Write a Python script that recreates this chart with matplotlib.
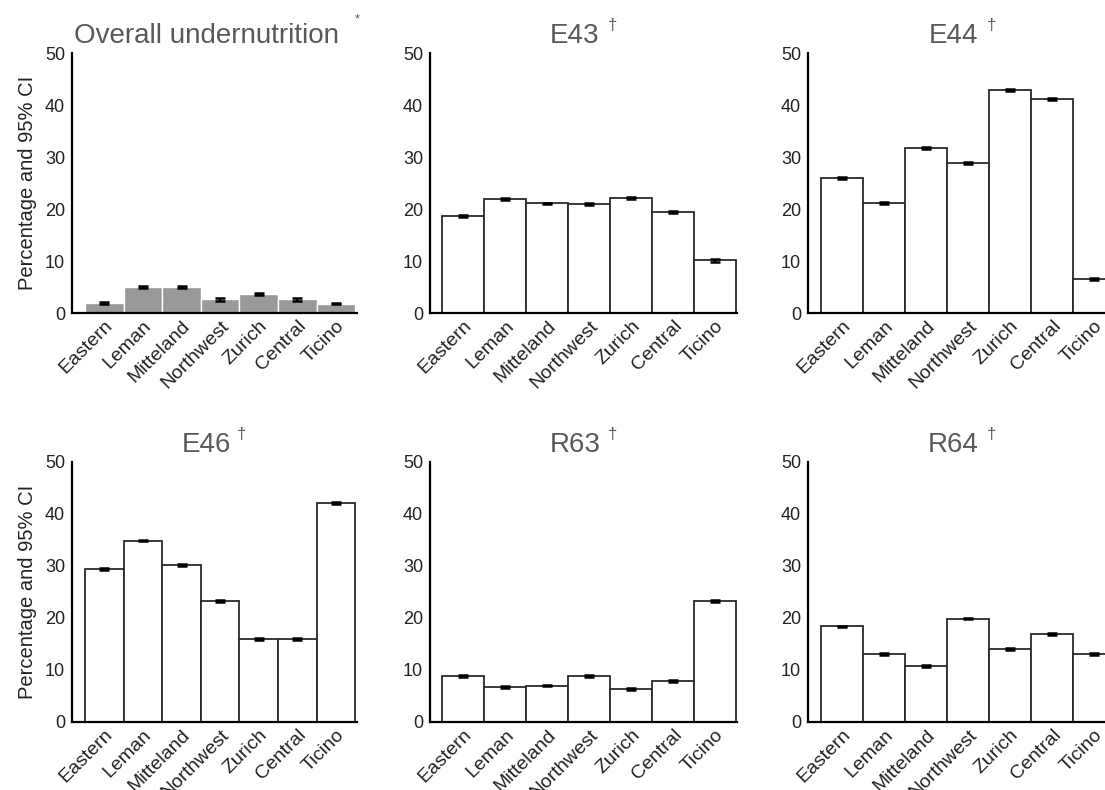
import matplotlib
matplotlib.use("Agg")
import matplotlib.pyplot as plt
import numpy as np

plt.rcParams['font.family'] = ['Liberation Sans', 'DejaVu Sans']

regions = ["Eastern", "Leman", "Mitteland", "Northwest", "Zurich", "Central", "Ticino"]

overall = [1.9, 5.0, 5.0, 2.6, 3.6, 2.6, 1.8]
overall_err = [0.2, 0.2, 0.2, 0.2, 0.2, 0.2, 0.15]

e43 = [18.6, 22.0, 21.1, 21.0, 22.1, 19.4, 10.1]
e43_err = [0.2, 0.2, 0.15, 0.2, 0.15, 0.15, 0.2]

e44 = [26.0, 21.1, 31.7, 28.9, 42.9, 41.1, 6.6]
e44_err = [0.15, 0.2, 0.2, 0.15, 0.15, 0.2, 0.2]

e46 = [29.4, 34.9, 30.2, 23.3, 16.0, 16.0, 42.1]
e46_err = [0.15, 0.15, 0.15, 0.15, 0.15, 0.15, 0.15]

r63 = [8.9, 6.7, 7.0, 8.8, 6.3, 7.9, 23.3]
r63_err = [0.15, 0.15, 0.15, 0.15, 0.15, 0.15, 0.2]

r64 = [18.4, 13.1, 10.8, 19.9, 14.0, 16.9, 13.1]
r64_err = [0.15, 0.15, 0.15, 0.15, 0.15, 0.15, 0.15]

titles = ["Overall undernutrition", "E43", "E44", "E46", "R63", "R64"]
marks = ["*", "\u2020", "\u2020", "\u2020", "\u2020", "\u2020"]
series = [overall, e43, e44, e46, r63, r64]
errors = [overall_err, e43_err, e44_err, e46_err, r63_err, r64_err]

W, H = 1105, 790
fig = plt.figure(figsize=(W / 100, H / 100), dpi=100)

# pixel boxes: (left, right, xlim0, xlim1)
cols = [(72, 357, -0.84, 6.55), (430, 737, -0.79, 6.52), (808, 1116, -0.81, 6.52)]
rows = [(53, 313), (462, 722)]

x = np.arange(len(regions))
for i in range(6):
    r, c = divmod(i, 3)
    l, rr, xl0, xl1 = cols[c]
    t, b = rows[r]
    ax = fig.add_axes([l / W, 1 - b / H, (rr - l) / W, (b - t) / H])
    if i == 0:
        ax.bar(x, series[i], width=1.0, color="#999999", edgecolor="white", linewidth=1.0, zorder=2)
    else:
        ax.bar(x, series[i], width=1.0, color="white", edgecolor="#2a2a2a", linewidth=1.3, zorder=2)
    ax.errorbar(x, series[i], yerr=errors[i], fmt="none", ecolor="black",
                elinewidth=1.5, capsize=3.6, capthick=1.8, zorder=3)
    ax.set_xlim(xl0, xl1)
    ax.set_ylim(0, 50)
    ax.set_yticks([0, 10, 20, 30, 40, 50])
    ax.set_xticks(x)
    ax.set_xticklabels(regions, rotation=45, ha="right", va="top", rotation_mode="anchor")
    ax.tick_params(axis="both", length=0, colors="#222222")
    ax.tick_params(axis="y", pad=5, labelsize=13)
    ax.tick_params(axis="x", pad=3, labelsize=14)
    for s in ["top", "right"]:
        ax.spines[s].set_visible(False)
    for s in ["left", "bottom"]:
        ax.spines[s].set_linewidth(1.6)
        ax.spines[s].set_color("black")
    ax.text(0.472, 1.038, titles[i], transform=ax.transAxes, ha="center", va="baseline",
            fontsize=20, color="#595959")
    if i == 0:
        ax.text(1.0, 1.13, marks[i], transform=ax.transAxes, ha="center", va="center",
                fontsize=9, color="#595959")
    else:
        ax.text(0.595, 1.105, marks[i], transform=ax.transAxes, ha="center", va="center",
                fontsize=12, color="#595959")
    if c == 0:
        ax.set_ylabel("Percentage and 95% CI", fontsize=14.5, color="#222222", labelpad=6)

fig.savefig("out.png", dpi=100, facecolor="white")
